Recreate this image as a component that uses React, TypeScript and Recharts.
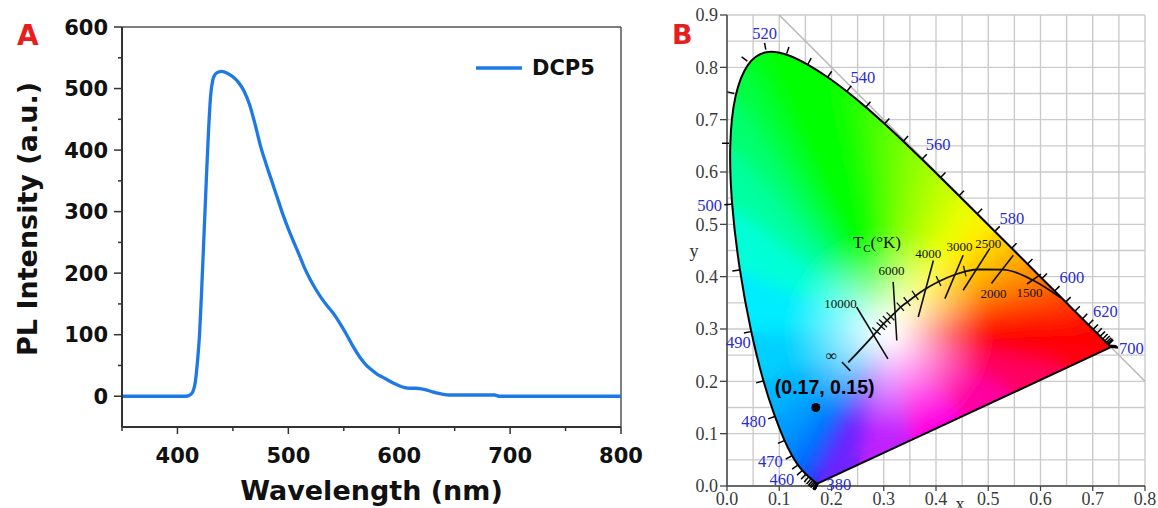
import React from 'react';
import {
  LineChart,
  Line,
  XAxis,
  YAxis,
  ReferenceLine,
  Legend,
  ComposedChart,
  Scatter,
  CartesianGrid,
  Curve,
} from 'recharts';

// ---------------- Panel A data ----------------
const plWavelength = [
  350, 380, 405, 408, 410, 412, 414, 416, 418, 420, 422, 424, 426, 428, 430, 432, 434, 437, 440,
  445, 450, 455, 460, 465, 470, 475, 480, 485, 490, 495, 500, 505, 510, 515, 520, 525, 530, 535,
  540, 545, 550, 555, 560, 565, 570, 575, 580, 585, 590, 595, 600, 605, 610, 615, 620, 625, 630,
  635, 640, 645, 650, 660, 670, 680, 686, 690, 720, 760, 800,
];
const plIntensity = [
  0, 0, 0, 0, 1, 3, 8, 22, 55, 102, 180, 264, 350, 430, 490, 515, 523, 527, 528,
  525, 519, 510, 496, 474, 442, 406, 377, 350, 323, 296, 272, 250, 229, 207, 189, 173, 159, 147,
  136, 123, 108, 92, 76, 62, 51, 43, 36, 31, 26, 21, 17, 14, 13, 13, 12, 10, 7,
  5, 3, 2, 2, 2, 2, 2, 2, 0, 0, 0, 0,
];
const plData = plWavelength.map((wl, i) => ({ wl, pl: plIntensity[i] }));
const aXTicks = [350, 400, 450, 500, 550, 600, 650, 700, 750, 800];
const aYTicks = [-50, 0, 50, 100, 150, 200, 250, 300, 350, 400, 450, 500, 550, 600];
const seriesName = 'DCP5';

// ---------------- Panel B data ----------------
const locusNm = [
  380, 385, 390, 395, 400, 405, 410, 415, 420, 425, 430, 435, 440, 445, 450, 455, 460, 465, 470,
  475, 480, 485, 490, 495, 500, 505, 510, 515, 520, 525, 530, 535, 540, 545, 550, 555, 560, 565,
  570, 575, 580, 585, 590, 595, 600, 605, 610, 615, 620, 625, 630, 635, 640, 645, 650, 655, 660,
  665, 670, 675, 680, 685, 690, 695, 700,
];
const locusX = [
  0.1741, 0.174, 0.1738, 0.1736, 0.1733, 0.173, 0.1726, 0.1721, 0.1714, 0.1703, 0.1689, 0.1669,
  0.1644, 0.1611, 0.1566, 0.151, 0.144, 0.1355, 0.1241, 0.1096, 0.0913, 0.0687, 0.0454, 0.0235,
  0.0082, 0.0039, 0.0139, 0.0389, 0.0743, 0.1142, 0.1547, 0.1929, 0.2296, 0.2658, 0.3016, 0.3373,
  0.3731, 0.4087, 0.4441, 0.4788, 0.5125, 0.5448, 0.5752, 0.6029, 0.627, 0.6482, 0.6658, 0.6801,
  0.6915, 0.7006, 0.7079, 0.714, 0.719, 0.723, 0.726, 0.7283, 0.73, 0.7311, 0.732, 0.7327, 0.7334,
  0.734, 0.7344, 0.7346, 0.7347,
];
const locusY = [
  0.005, 0.005, 0.0049, 0.0049, 0.0048, 0.0048, 0.0048, 0.0048, 0.0051, 0.0058, 0.0069, 0.0086,
  0.0109, 0.0138, 0.0177, 0.0227, 0.0297, 0.0399, 0.0578, 0.0868, 0.1327, 0.2007, 0.295, 0.4127,
  0.5384, 0.6548, 0.7502, 0.812, 0.8338, 0.8262, 0.8059, 0.7816, 0.7543, 0.7243, 0.6923, 0.6589,
  0.6245, 0.5896, 0.5547, 0.5202, 0.4866, 0.4544, 0.4242, 0.3965, 0.3725, 0.3514, 0.334, 0.3197,
  0.3083, 0.2993, 0.292, 0.2859, 0.2809, 0.277, 0.274, 0.2717, 0.27, 0.2689, 0.268, 0.2673, 0.2666,
  0.266, 0.2656, 0.2654, 0.2653,
];
const purpleX = [0.65, 0.55, 0.45, 0.35, 0.25];
const purpleY = [0.226, 0.1795, 0.1331, 0.0867, 0.0402];
const whitePoint = { x: 0.31, y: 0.295 };

const planckT = [Infinity, 10000, 9000, 8000, 7500, 7000, 6500, 6000, 5500, 5000, 4500, 4000, 3500, 3000, 2750, 2500, 2000, 1500, 1150];
const planckX = [0.232, 0.2807, 0.2867, 0.295, 0.2994, 0.3064, 0.3135, 0.3221, 0.3324, 0.3451, 0.3608, 0.3805, 0.4053, 0.4369, 0.4552, 0.4769, 0.5267, 0.5857, 0.638];
const planckY = [0.236, 0.2884, 0.2952, 0.3048, 0.3101, 0.3166, 0.3236, 0.3318, 0.3418, 0.3516, 0.3635, 0.3768, 0.3907, 0.4041, 0.4097, 0.4137, 0.4133, 0.3931, 0.36];
const minorTickT = [9000, 8000, 7500, 7000, 6500, 5500, 5000, 4500, 3500, 2750];

const isoT = [10000, 6000, 4000, 3000, 2500, 2000, 1500];
const isoX1 = [0.248, 0.318, 0.395, 0.452, 0.503, 0.548, 0.601];
const isoY1 = [0.342, 0.39, 0.431, 0.441, 0.454, 0.441, 0.405];
const isoX2 = [0.308, 0.325, 0.366, 0.417, 0.452, 0.506, 0.574];
const isoY2 = [0.243, 0.278, 0.323, 0.358, 0.374, 0.387, 0.386];
const infBar = [{ x: 0.22, y: 0.237 }, { x: 0.236, y: 0.22 }];
const diagonal = [{ x: 0.1, y: 0.9 }, { x: 0.8, y: 0.2 }];

const wlLabelText = ['520', '540', '560', '580', '600', '620', '700', '500', '490', '480', '470', '460', '380'];
const wlLabelX = [0.072, 0.26, 0.404, 0.545, 0.66, 0.724, 0.774, 0.0, 0.022, 0.051, 0.083, 0.105, 0.214];
const wlLabelY = [0.865, 0.782, 0.653, 0.511, 0.398, 0.334, 0.264, 0.536, 0.275, 0.124, 0.048, 0.013, 0.003];

const tempLabelText = ['10000', '6000', '4000', '3000', '2500', '2000', '1500', '∞'];
const tempLabelX = [0.217, 0.315, 0.385, 0.445, 0.5, 0.51, 0.579, 0.2];
const tempLabelY = [0.349, 0.412, 0.444, 0.458, 0.464, 0.368, 0.37, 0.25];

const samplePoint = { x: 0.17, y: 0.15 };
const sampleLabel = '(0.17, 0.15)';
const sampleLabelPos = { x: 0.187, y: 0.189 };
const tcLabelPos = { x: 0.287, y: 0.466 };

const bXTicks = [0, 0.05, 0.1, 0.15, 0.2, 0.25, 0.3, 0.35, 0.4, 0.45, 0.5, 0.55, 0.6, 0.65, 0.7, 0.75, 0.8];
const bYTicks = [0, 0.05, 0.1, 0.15, 0.2, 0.25, 0.3, 0.35, 0.4, 0.45, 0.5, 0.55, 0.6, 0.65, 0.7, 0.75, 0.8, 0.85, 0.9];

// ---------------- styles ----------------
const locusColors = [
  '#6a00ff', '#6400ff', '#5e00ff', '#5800ff', '#5200ff', '#4c00ff', '#4608ff', '#4010ff', '#3a18ff', '#3420ff',
  '#2e28ff', '#2830ff', '#2038ff', '#1844ff', '#1050ff', '#085cff', '#0068ff', '#0078ff', '#0088ff', '#009cff',
  '#00b4ff', '#00d0ff', '#00ecff', '#00ffd8', '#00ffa0', '#00ff70', '#00ff40', '#00ff18', '#00ff00', '#00ff00',
  '#00ff00', '#10ff00', '#28ff00', '#48ff00', '#68ff00', '#88ff00', '#a8ff00', '#c8ff00', '#e8ff00', '#fff000',
  '#ffd000', '#ffb000', '#ff9000', '#ff7000', '#ff5000', '#ff3800', '#ff2800', '#ff1800', '#ff1000', '#ff0800',
  '#ff0000', '#ff0000', '#ff0000', '#ff0000', '#ff0000', '#ff0000', '#ff0000', '#ff0000', '#ff0000', '#ff0000',
  '#ff0000', '#ff0000', '#ff0000', '#ff0000', '#ff0010',
];
const purpleColors = ['#ff0060', '#ff00a0', '#ff00e0', '#c020ff', '#7020ff'];
const edgeColors = [...locusColors, ...purpleColors];

const A_FONT = "'DejaVu Sans', Verdana, sans-serif";
const SERIF = "'Liberation Serif', 'Times New Roman', serif";
const SANS = "'Liberation Sans', Arial, sans-serif";

// ---------------- Panel A ----------------
const ATickY = (p: any) => {
  const v = Number(p.payload && p.payload.value);
  const major = v >= 0 && v % 100 === 0;
  return (
    <g>
      {v > -50 && (
        <line x1={p.x - (major ? 8 : 4)} y1={p.y} x2={p.x} y2={p.y} stroke="#333" strokeWidth={1.5} />
      )}
      {major && (
        <text x={p.x - 14} y={p.y} dy="0.36em" textAnchor="end" fontFamily={A_FONT} fontWeight="bold" fontSize={21} fill="#111">
          {v}
        </text>
      )}
    </g>
  );
};

const ATickX = (p: any) => {
  const v = Number(p.payload && p.payload.value);
  const major = v % 100 === 0;
  return (
    <g>
      <line x1={p.x} y1={p.y} x2={p.x} y2={p.y + (major ? 7 : 4)} stroke="#333" strokeWidth={1.5} />
      {major && (
        <text x={p.x} y={p.y + 36} textAnchor="middle" fontFamily={A_FONT} fontWeight="bold" fontSize={21} fill="#111">
          {v}
        </text>
      )}
    </g>
  );
};

const AXTitle = (props: any) => {
  const vb = props.viewBox || { x: 122, y: 427, width: 499, height: 81 };
  return (
    <text x={vb.x + vb.width / 2} y={500} textAnchor="middle" fontFamily={A_FONT} fontWeight="bold" fontSize={27} fill="#111">
      Wavelength (nm)
    </text>
  );
};

const AYTitle = (props: any) => {
  const vb = props.viewBox || { x: 0, y: 27, width: 122, height: 400 };
  const cx = 27;
  const cy = vb.y + vb.height / 2 - 8;
  return (
    <text
      x={cx}
      y={cy}
      transform={`rotate(-90 ${cx} ${cy})`}
      textAnchor="middle"
      dominantBaseline="central"
      fontFamily={A_FONT}
      fontWeight="bold"
      fontSize={27}
      fill="#111"
    >
      PL Intensity (a.u.)
    </text>
  );
};

const ALegend = () => (
  <div style={{ display: 'flex', alignItems: 'center', fontFamily: A_FONT, fontWeight: 'bold', fontSize: 21, color: '#111' }}>
    <svg width={46} height={10} style={{ marginRight: 10 }}>
      <line x1={1} y1={5} x2={45} y2={5} stroke="#1e78e6" strokeWidth={3.5} strokeLinecap="round" />
    </svg>
    <span>{seriesName}</span>
  </div>
);

const PanelA = () => (
  <LineChart width={660} height={508} data={plData} margin={{ top: 27, right: 39, bottom: 0, left: 0 }}>
    <XAxis
      type="number"
      dataKey="wl"
      domain={[350, 800]}
      ticks={aXTicks}
      interval={0}
      height={81}
      axisLine={{ stroke: '#333', strokeWidth: 2 }}
      tickLine={false}
      tickSize={0}
      tickMargin={0}
      tick={ATickX}
      label={AXTitle}
    />
    <YAxis
      type="number"
      domain={[-50, 600]}
      ticks={aYTicks}
      interval={0}
      width={122}
      axisLine={{ stroke: '#333', strokeWidth: 2 }}
      tickLine={false}
      tickSize={0}
      tickMargin={0}
      tick={ATickY}
      label={AYTitle}
    />
    <ReferenceLine y={600} stroke="#555" strokeWidth={1.5} />
    <ReferenceLine x={800} stroke="#555" strokeWidth={1.5} />
    <Line
      type="monotone"
      dataKey="pl"
      name={seriesName}
      stroke="#1e78e6"
      strokeWidth={3.3}
      dot={false}
      isAnimationActive={false}
    />
    <Legend
      layout="vertical"
      align="center"
      verticalAlign="middle"
      content={ALegend}
      wrapperStyle={{ position: 'absolute', top: 56, left: 476, width: 140, height: 26 }}
    />
    <text x={17} y={45} fill="#e61e1e" fontFamily={A_FONT} fontWeight="bold" fontSize={28}>
      A
    </text>
  </LineChart>
);

// ---------------- Panel B ----------------
const locusData = [
  { x: whitePoint.x, y: whitePoint.y },
  ...locusNm.map((nm, i) => ({ x: locusX[i], y: locusY[i], nm })),
  ...purpleX.map((x, i) => ({ x, y: purpleY[i] })),
];
const planckData = planckT.map((t, i) => ({ x: planckX[i], y: planckY[i], t }));
const isoData = isoT.map((t, i) => [
  { x: isoX1[i], y: isoY1[i], t },
  { x: isoX2[i], y: isoY2[i], t },
]);
const labelData = [
  ...wlLabelText.map((text, i) => ({ x: wlLabelX[i], y: wlLabelY[i], text, kind: text === '500' ? 'wlLeft' : 'wl' })),
  ...tempLabelText.map((text, i) => ({ x: tempLabelX[i], y: tempLabelY[i], text, kind: text === '∞' ? 'inf' : 'temp' })),
  { x: sampleLabelPos.x, y: sampleLabelPos.y, text: sampleLabel, kind: 'coord' },
  { x: tcLabelPos.x, y: tcLabelPos.y, text: 'T', kind: 'tc' },
  { x: 0.446, y: 0, text: 'x', kind: 'axisX' },
  { x: 0, y: 0.45, text: 'y', kind: 'axisY' },
];

const labelStyles: Record<string, any> = {
  wl: { fill: '#2b2bd2', fontSize: 16.5, fontFamily: SERIF, textAnchor: 'middle', dx: 0, dy: '0.35em' },
  wlLeft: { fill: '#2b2bd2', fontSize: 16.5, fontFamily: SERIF, textAnchor: 'end', dx: -5, dy: '0.35em' },
  temp: { fill: '#111', fontSize: 13, fontFamily: SERIF, textAnchor: 'middle', dx: 0, dy: '0.35em' },
  inf: { fill: '#111', fontSize: 16, fontFamily: SERIF, textAnchor: 'middle', dx: 0, dy: '0.35em' },
  coord: { fill: '#000', fontSize: 19.5, fontFamily: SANS, fontWeight: 'bold', textAnchor: 'middle', dx: 0, dy: '0.35em' },
  axisX: { fill: '#333', fontSize: 18, fontFamily: SERIF, textAnchor: 'middle', dx: 0, dy: 24 },
  axisY: { fill: '#333', fontSize: 18, fontFamily: SERIF, textAnchor: 'middle', dx: -33, dy: '0.35em' },
};

const TextMark = (p: any) => {
  const d = p.payload || {};
  if (d.kind === 'tc') {
    return (
      <text x={p.cx} y={p.cy} dy="0.35em" textAnchor="middle" fontFamily={SERIF} fontSize={17} fill="#111">
        T
        <tspan fontSize={11} dy={4}>C</tspan>
        <tspan dy={-4}>(°K)</tspan>
      </text>
    );
  }
  const s = labelStyles[d.kind] || labelStyles.wl;
  return (
    <text
      x={p.cx}
      y={p.cy}
      dx={s.dx}
      dy={s.dy}
      textAnchor={s.textAnchor}
      fontFamily={s.fontFamily}
      fontSize={s.fontSize}
      fontWeight={s.fontWeight || 'normal'}
      fill={s.fill}
    >
      {d.text}
    </text>
  );
};

const renderNothing = () => <g />;

// uniform cubic B-spline through the screen points (same construction as d3 curveBasis)
const basisPath = (P: { x: number; y: number }[]) => {
  if (P.length < 3) return P.map((p, i) => `${i ? 'L' : 'M'}${p.x},${p.y}`).join('');
  let d = `M${P[0].x},${P[0].y}`;
  let x0 = P[0].x, y0 = P[0].y, x1 = P[1].x, y1 = P[1].y;
  d += `L${(5 * x0 + x1) / 6},${(5 * y0 + y1) / 6}`;
  const seg = (x: number, y: number) => {
    d += `C${(2 * x0 + x1) / 3},${(2 * y0 + y1) / 3},${(x0 + 2 * x1) / 3},${(y0 + 2 * y1) / 3},${(x0 + 4 * x1 + x) / 6},${(y0 + 4 * y1 + y) / 6}`;
    x0 = x1; y0 = y1; x1 = x; y1 = y;
  };
  for (let i = 2; i < P.length; i++) seg(P[i].x, P[i].y);
  seg(x1, y1);
  d += `L${x1},${y1}`;
  return d;
};

const renderLocus = (props: any) => {
  const pts: { x: number; y: number }[] = props.points || [];
  if (pts.length < 4) return <g />;
  const W = pts[0];
  const ring = pts.slice(1);
  const n = ring.length;
  const nL = locusNm.length;
  const grads: any[] = [];
  const tris: any[] = [];
  for (let i = 0; i < n; i++) {
    const a = ring[i];
    const b = ring[(i + 1) % n];
    const mx = (a.x + b.x) / 2;
    const my = (a.y + b.y) / 2;
    const L = Math.hypot(mx - W.x, my - W.y) || 1;
    const col = edgeColors[i] || '#ff0000';
    const id = `cie-grad-${i}`;
    const wEnd = Math.min(0.3, 8 / L);
    const cStart = Math.min(0.92, 100 / L);
    grads.push(
      <linearGradient key={id} id={id} gradientUnits="userSpaceOnUse" x1={W.x} y1={W.y} x2={mx} y2={my}>
        <stop offset="0" stopColor="#ffffff" />
        <stop offset={wEnd} stopColor="#ffffff" />
        <stop offset={cStart} stopColor={col} />
        <stop offset="1" stopColor={col} />
      </linearGradient>,
    );
    tris.push(
      <path
        key={`t${i}`}
        d={`M${W.x},${W.y}L${a.x},${a.y}L${b.x},${b.y}Z`}
        fill={`url(#${id})`}
        stroke={`url(#${id})`}
        strokeWidth={1.2}
        strokeLinejoin="round"
      />,
    );
  }
  const locusPts = ring.slice(0, nL);
  const outline = basisPath(locusPts) + 'Z';
  const ticks: any[] = [];
  for (let i = 0; i < nL; i++) {
    const p = ring[i];
    const a = ring[Math.max(0, i - 1)];
    const b = ring[Math.min(nL - 1, i + 1)];
    let tx = b.x - a.x;
    let ty = b.y - a.y;
    let len = Math.hypot(tx, ty);
    let nx: number;
    let ny: number;
    if (len < 2) {
      nx = p.x - W.x;
      ny = p.y - W.y;
      len = Math.hypot(nx, ny) || 1;
      nx /= len;
      ny /= len;
    } else {
      tx /= len;
      ty /= len;
      nx = ty;
      ny = -tx;
    }
    ticks.push(
      <line key={`k${i}`} x1={p.x} y1={p.y} x2={p.x + nx * 7} y2={p.y + ny * 7} stroke="#000" strokeWidth={1.5} />,
    );
  }
  return (
    <g>
      <defs>
        {grads}
        <clipPath id="cie-clip">
          <path d={outline} />
        </clipPath>
        <filter id="cie-blur" x="-10%" y="-10%" width="120%" height="120%">
          <feGaussianBlur stdDeviation="9" />
        </filter>
      </defs>
      <g clipPath="url(#cie-clip)">
        <g>{tris}</g>
        <g filter="url(#cie-blur)">{tris.map((t) => React.cloneElement(t, { key: `b${t.key}` }))}</g>
      </g>
      <path d={outline} fill="none" stroke="#000" strokeWidth={2} strokeLinejoin="round" />
      {ticks}
    </g>
  );
};

const renderPlanck = (props: any) => {
  const pts: { x: number; y: number }[] = props.points || [];
  const ticks: any[] = [];
  pts.forEach((p, i) => {
    if (!minorTickT.includes(planckT[i])) return;
    const a = pts[Math.max(0, i - 1)];
    const b = pts[Math.min(pts.length - 1, i + 1)];
    let tx = b.x - a.x;
    let ty = b.y - a.y;
    const L = Math.hypot(tx, ty) || 1;
    tx /= L;
    ty /= L;
    const nx = ty;
    const ny = -tx;
    ticks.push(
      <line key={i} x1={p.x - nx * 5} y1={p.y - ny * 5} x2={p.x + nx * 6} y2={p.y + ny * 6} stroke="#111" strokeWidth={1.3} />,
    );
  });
  return (
    <g>
      <Curve type="monotoneX" points={pts as any} stroke="#111" strokeWidth={1.8} fill="none" />
      {ticks}
    </g>
  );
};

const isMajorB = (v: number) => Math.abs(v * 10 - Math.round(v * 10)) < 1e-6;

const BTickX = (p: any) => {
  const v = Number(p.payload && p.payload.value);
  if (!isMajorB(v)) return <g />;
  return (
    <g>
      <line x1={p.x} y1={p.y} x2={p.x} y2={p.y + 5} stroke="#444" strokeWidth={1.3} />
      <text x={p.x} y={p.y + 19} textAnchor="middle" fontFamily={SERIF} fontSize={18} fill="#3a3a3a">
        {v.toFixed(1)}
      </text>
    </g>
  );
};

const BTickY = (p: any) => {
  const v = Number(p.payload && p.payload.value);
  if (!isMajorB(v)) return <g />;
  return (
    <g>
      <line x1={p.x - 7} y1={p.y} x2={p.x} y2={p.y} stroke="#444" strokeWidth={1.3} />
      <text x={p.x - 9} y={p.y} dy="0.35em" textAnchor="end" fontFamily={SERIF} fontSize={18} fill="#3a3a3a">
        {v.toFixed(1)}
      </text>
    </g>
  );
};

const SampleDot = (p: any) => <circle cx={p.cx} cy={p.cy} r={4.5} fill="#000" />;

const PanelB = () => (
  <ComposedChart width={498} height={508} margin={{ top: 15, right: 13, bottom: 0, left: 0 }}>
    <CartesianGrid stroke="#cbcbcb" strokeWidth={1.4} />
    <XAxis
      type="number"
      dataKey="x"
      domain={[0, 0.8]}
      ticks={bXTicks}
      interval={0}
      height={22}
      axisLine={{ stroke: '#444', strokeWidth: 1.5 }}
      tickLine={false}
      tickSize={0}
      tickMargin={0}
      tick={BTickX}
    />
    <YAxis
      type="number"
      dataKey="y"
      domain={[0, 0.9]}
      ticks={bYTicks}
      interval={0}
      width={67}
      axisLine={{ stroke: '#444', strokeWidth: 1.5 }}
      tickLine={false}
      tickSize={0}
      tickMargin={0}
      tick={BTickY}
    />
    <Scatter
      data={diagonal}
      line={{ stroke: '#b8b8b8', strokeWidth: 1.5 }}
      lineType="joint"
      shape={renderNothing}
      isAnimationActive={false}
    />
    <Scatter data={locusData} line={renderLocus} lineType="joint" shape={renderNothing} isAnimationActive={false} />
    <Scatter data={planckData} line={renderPlanck} lineType="joint" shape={renderNothing} isAnimationActive={false} />
    {isoData.map((seg, i) => (
      <Scatter
        key={`iso${i}`}
        data={seg}
        line={{ stroke: '#111', strokeWidth: 1.6 }}
        lineType="joint"
        shape={renderNothing}
        isAnimationActive={false}
      />
    ))}
    <Scatter
      data={infBar}
      line={{ stroke: '#111', strokeWidth: 1.6 }}
      lineType="joint"
      shape={renderNothing}
      isAnimationActive={false}
    />
    <Scatter data={[samplePoint]} shape={SampleDot} isAnimationActive={false} />
    <Scatter data={labelData} shape={TextMark} isAnimationActive={false} />
    <text x={12} y={44} fill="#e61e1e" fontFamily={A_FONT} fontWeight="bold" fontSize={27}>
      B
    </text>
  </ComposedChart>
);

export default function App() {
  return (
    <div style={{ position: 'absolute', left: 0, top: 0, width: 1158, height: 508, background: '#fff', overflow: 'hidden' }}>
      <div style={{ position: 'absolute', left: 0, top: 0 }}>
        <PanelA />
      </div>
      <div style={{ position: 'absolute', left: 660, top: 0 }}>
        <PanelB />
      </div>
    </div>
  );
}
